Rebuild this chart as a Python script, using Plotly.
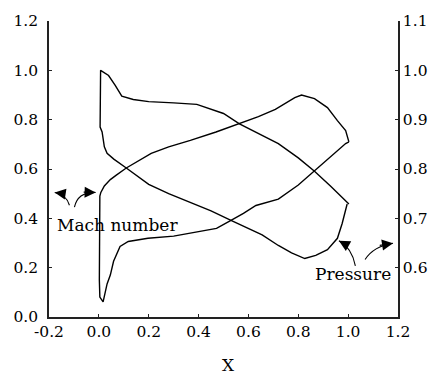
import plotly.graph_objects as go

# ---- data ----
# Mach number loop (left axis)
mach_x = [1.003, 0.99, 0.957, 0.917, 0.865, 0.83, 0.813, 0.786, 0.708, 0.64, 0.564,
          0.47, 0.367, 0.28, 0.21, 0.16, 0.11, 0.07, 0.046, 0.022, 0.008, 0.004,
          0.002, 0.002, 0.004, 0.017, 0.033, 0.046, 0.059, 0.085, 0.118, 0.197,
          0.3, 0.367, 0.472, 0.53, 0.58, 0.63, 0.72, 0.8, 0.865, 0.92, 0.97,
          0.99, 1.003]
mach_y = [0.71, 0.756, 0.796, 0.849, 0.885, 0.897, 0.9, 0.889, 0.842, 0.812, 0.783,
          0.75, 0.716, 0.69, 0.663, 0.635, 0.604, 0.575, 0.557, 0.531, 0.505, 0.49,
          0.3, 0.15, 0.081, 0.061, 0.134, 0.17, 0.226, 0.286, 0.306, 0.319,
          0.328, 0.339, 0.359, 0.392, 0.42, 0.452, 0.478, 0.535, 0.593, 0.64, 0.683,
          0.703, 0.71]

# Pressure loop (right axis)
pres_x = [1.003, 0.996, 0.93, 0.865, 0.8, 0.72, 0.64, 0.564, 0.5, 0.44, 0.393,
          0.3, 0.2, 0.138, 0.092, 0.065, 0.039, 0.007,
          0.003, 0.005, 0.013, 0.022, 0.033, 0.06, 0.11, 0.2, 0.28, 0.366, 0.45,
          0.53, 0.6, 0.655, 0.72, 0.773, 0.826, 0.87, 0.917, 0.957, 0.976, 0.996]
pres_y = [0.729, 0.7325, 0.765, 0.7955, 0.8225, 0.8515, 0.8725, 0.8915, 0.9125, 0.9225, 0.931,
          0.934, 0.9365, 0.941, 0.9475, 0.97, 0.9895, 1.0,
          0.89, 0.885, 0.875, 0.845, 0.832, 0.82, 0.802, 0.769, 0.75, 0.7325, 0.715,
          0.696, 0.68, 0.6665, 0.645, 0.63, 0.6185, 0.625, 0.6365, 0.6595, 0.6895, 0.729]

x_ticks = [-0.2, 0.0, 0.2, 0.4, 0.6, 0.8, 1.0, 1.2]
x_ticklabels = ["-0.2", "0.0", "0.2", "0.4", "0.6", "0.8", "1.0", "1.2"]
y_ticks = [0.0, 0.2, 0.4, 0.6, 0.8, 1.0, 1.2]
y_ticklabels = ["0.0", "0.2", "0.4", "0.6", "0.8", "1.0", "1.2"]
y2_ticks = [0.6, 0.7, 0.8, 0.9, 1.0, 1.1]
y2_ticklabels = ["0.6", "0.7", "0.8", "0.9", "1.0", "1.1"]

FONT = "DejaVu Serif"
LINE = dict(color="black", width=1.4)

fig = go.Figure()
fig.add_trace(go.Scatter(x=mach_x, y=mach_y, mode="lines", line=LINE,
                         name="Mach number", yaxis="y"))
fig.add_trace(go.Scatter(x=pres_x, y=pres_y, mode="lines", line=LINE,
                         name="Pressure", yaxis="y2"))

# curved arrows: (tail, control, head) in left-axis data coords
arrows = [
    ((-0.118, 0.453), (-0.131, 0.498), (-0.177, 0.505)),
    ((-0.098, 0.445), (-0.085, 0.507), (-0.013, 0.505)),
    ((1.029, 0.207), (1.016, 0.279), (0.963, 0.309)),
    ((1.068, 0.233), (1.101, 0.286), (1.180, 0.299)),
]
shapes = []
annotations = []
for (tx, ty), (cx, cy), (hx, hy) in arrows:
    shapes.append(dict(type="path", xref="x", yref="y",
                       path=f"M {tx},{ty} Q {cx},{cy} {hx},{hy}",
                       line=dict(color="black", width=1.1)))
    ax = hx + 0.75 * (cx - hx)
    ay = hy + 0.75 * (cy - hy)
    annotations.append(dict(x=hx, y=hy, xref="x", yref="y", ax=ax, ay=ay,
                            axref="x", ayref="y", showarrow=True, arrowhead=2,
                            arrowsize=2.0, arrowwidth=1.1, arrowcolor="black", text=""))

annotations.append(dict(x=0.075, y=0.375, xref="x", yref="y", text="Mach number",
                        showarrow=False, font=dict(family=FONT, size=17, color="black")))
annotations.append(dict(x=1.02, y=0.175, xref="x", yref="y", text="Pressure",
                        showarrow=False, font=dict(family=FONT, size=17, color="black")))
annotations.append(dict(x=0.513, y=-0.162, xref="paper", yref="paper", text="X",
                        showarrow=False, yanchor="middle",
                        font=dict(family=FONT, size=17, color="black")))

axis_common = dict(showgrid=False, zeroline=False, showline=True, linecolor="#222",
                   linewidth=1.5, ticks="inside", ticklen=3, tickcolor="#222",
                   tickfont=dict(family=FONT, size=15.5, color="black"))

fig.update_layout(
    width=440, height=381,
    margin=dict(l=49, r=35, t=15, b=64),
    paper_bgcolor="white", plot_bgcolor="white",
    showlegend=False,
    xaxis=dict(range=[-0.2, 1.2], tickvals=x_ticks, ticktext=x_ticklabels,
               **axis_common),
    yaxis=dict(range=[0.0, 1.2], tickvals=y_ticks, ticktext=y_ticklabels,
               ticklabelstandoff=6, **axis_common),
    yaxis2=dict(range=[0.5, 1.1], tickvals=y2_ticks, ticktext=y2_ticklabels,
                overlaying="y", side="right", **axis_common),
    shapes=shapes,
    annotations=annotations,
)

fig.write_html("out.html")
